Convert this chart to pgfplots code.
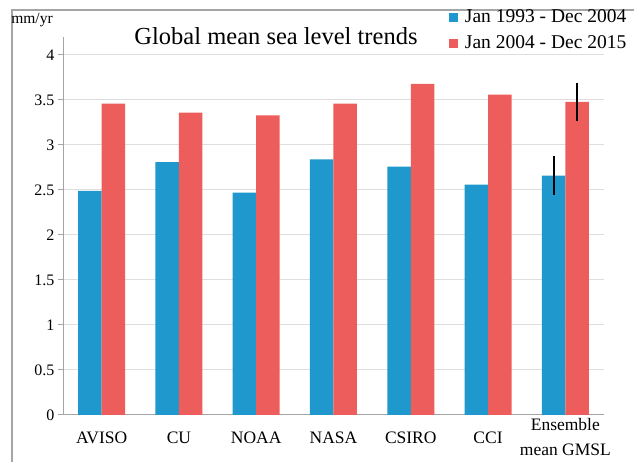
\documentclass[border=0pt]{standalone}
\usepackage{fontspec}
\setmainfont{Liberation Serif}
\usepackage{pgfplots}
\pgfplotsset{compat=1.18}

\definecolor{barblue}{RGB}{31,152,205}
\definecolor{barred}{RGB}{236,93,91}
\definecolor{gridgray}{RGB}{222,222,222}
\definecolor{axgray}{RGB}{165,165,165}

\begin{document}
\begin{tikzpicture}[x=1pt,y=1pt]
\useasboundingbox (0,0) rectangle (634,462);
% outer frame (left and top only)
\draw[axgray, line width=1.5pt] (12,-5) -- (12,452) -- (640,452);

\begin{axis}[
    at={(63pt,47pt)}, anchor=south west,
    scale only axis,
    width=541pt, height=378pt,
    xmin=-0.5, xmax=6.5,
    ymin=0, ymax=4.2,
    axis x line=bottom, axis y line=left,
    axis line style={axgray, line width=1pt, -},
    ytick={0,0.5,...,4},
    ymajorgrids, major grid style={gridgray, line width=1pt},
    y tick label style={font=\fontsize{16}{16}\selectfont, /pgf/number format/assume math mode=true},
    yticklabel style={/pgf/number format/.cd, fixed, precision=1},
    ytick style={axgray, line width=1pt},
    major tick length=5pt,
    tick align=outside,
    xtick={0,...,6},
    xticklabels={AVISO,CU,NOAA,NASA,CSIRO,CCI,{Ensemble\\mean GMSL}},
    x tick label style={font=\fontsize{17.5}{25}\selectfont, align=center, anchor=center, yshift=-17.5pt},
    xtick style={draw=none},
    minor xtick={-0.5,0.5,...,6.5},
    minor x tick style={axgray, line width=1pt},
    minor tick length=5pt,
    bar width=23.5pt,
    legend style={at={(axis description cs:0.713,1.082)}, anchor=north west,
        draw=none, fill=none, font=\fontsize{19.5}{19.5}\selectfont,
        row sep=4pt, column sep=5pt, inner sep=0pt,
        nodes={text height=14pt, text depth=4pt, inner sep=2pt}},
    legend cell align=left,
    legend image code/.code={\fill[#1] (0pt,-4.5pt) rectangle (9pt,4.5pt);},
]
\addplot[ybar, bar shift=-11.75pt, fill=barblue, draw=none]
    coordinates {(0,2.49) (1,2.81) (2,2.47) (3,2.84) (4,2.76) (5,2.56) (6,2.66)};
\addlegendentry{Jan 1993 - Dec 2004}
\addplot[ybar, bar shift=11.75pt, fill=barred, draw=none]
    coordinates {(0,3.46) (1,3.36) (2,3.33) (3,3.46) (4,3.68) (5,3.56) (6,3.48)};
\addlegendentry{Jan 2004 - Dec 2015}
% ensemble uncertainty bars, centred on each bar
\addplot[forget plot, draw=none, mark=none,
    error bars/.cd, y dir=both, y explicit,
    error bar style={black, line width=1.8pt}, error mark=none]
    coordinates {(5.848,2.66) +- (0,0.22) (6.152,3.48) +- (0,0.21)};
\end{axis}

\node[font=\fontsize{24.5}{24.5}\selectfont] at (276,426) {Global mean sea level trends};
\node[font=\fontsize{15.5}{15.5}\selectfont] at (32,442) {mm/yr};
\end{tikzpicture}
\end{document}
